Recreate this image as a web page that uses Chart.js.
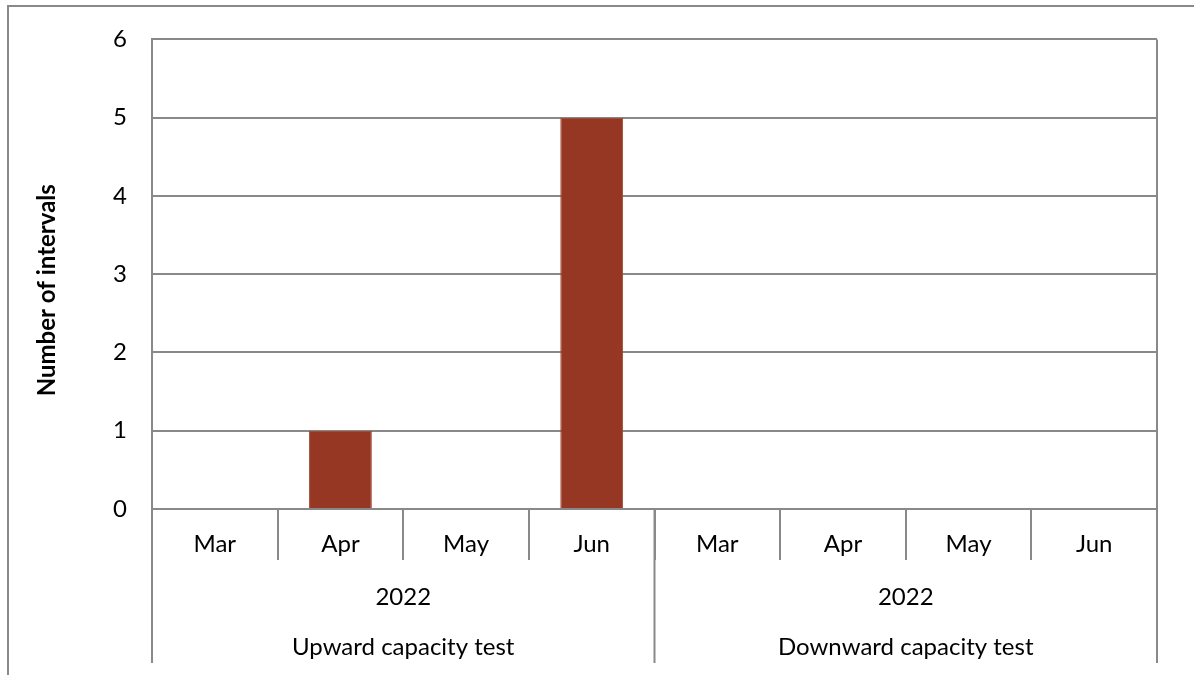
<!DOCTYPE html>
<html>
<head>
<meta charset="utf-8">
<script src="https://cdn.jsdelivr.net/npm/chart.js@4.4.0/dist/chart.umd.min.js"></script>
<style>
  body { margin: 0; background: #fff; }
  #wrap { position: relative; width: 1194px; height: 675px; }
</style>
</head>
<body>
<div id="wrap"><canvas id="myChart"></canvas></div>
<script>
var months = ['Mar', 'Apr', 'May', 'Jun', 'Mar', 'Apr', 'May', 'Jun'];
var years = ['2022', '2022'];
var groups = ['Upward capacity test', 'Downward capacity test'];
var intervals = [0, 1, 0, 5, 0, 0, 0, 0];
var yTicks = [0, 1, 2, 3, 4, 5, 6];
var yTitle = 'Number of intervals';

var lineColor = '#898989';
var fontFam = 'Lato, "Noto Sans", sans-serif';

/* hierarchical category axis, axis title and frame lines */
var groupAxis = {
  id: 'groupAxis',
  beforeDraw: function(chart) {
    var ctx = chart.ctx;
    ctx.save();
    ctx.strokeStyle = lineColor;
    ctx.lineWidth = 2;
    ctx.beginPath();
    ctx.moveTo(8, 675);
    ctx.lineTo(8, 6);
    ctx.lineTo(1194, 6);
    ctx.stroke();
    ctx.restore();
  },
  afterDraw: function(chart) {
    var ctx = chart.ctx;
    var x = chart.scales.x;
    var area = chart.chartArea;
    var half = (x.getPixelForValue(1) - x.getPixelForValue(0)) / 2;
    var per = months.length / groups.length;
    var endY = area.bottom + 154;

    ctx.save();
    ctx.strokeStyle = lineColor;
    ctx.lineWidth = 2;
    ctx.beginPath();
    ctx.moveTo(area.right, area.top);
    ctx.lineTo(area.right, area.bottom);
    ctx.stroke();
    for (var g = 0; g <= groups.length; g++) {
      var px = g == groups.length ? x.getPixelForValue(months.length - 1) + half : x.getPixelForValue(g * per) - half;
      ctx.beginPath();
      ctx.moveTo(px, area.bottom);
      ctx.lineTo(px, endY);
      ctx.stroke();
    }

    ctx.fillStyle = '#000';
    ctx.font = '24px ' + fontFam;
    ctx.textAlign = 'center';
    ctx.textBaseline = 'middle';
    for (var i = 0; i < months.length; i++) {
      ctx.fillText(months[i], x.getPixelForValue(i), area.bottom + 35);
    }
    for (var j = 0; j < groups.length; j++) {
      var mid = (x.getPixelForValue(j * per) + x.getPixelForValue(j * per + per - 1)) / 2;
      ctx.fillText(years[j], mid, area.bottom + 88);
      ctx.fillText(groups[j], mid, area.bottom + 138);
    }

    // y axis title, sits a little below the plot centre like the original
    ctx.translate(47, (area.top + area.bottom) / 2 + 16);
    ctx.rotate(-Math.PI / 2);
    ctx.font = 'bold 24px ' + fontFam;
    ctx.fillText(yTitle, 0, 0);
    ctx.restore();
  }
};

var ctx = document.getElementById('myChart').getContext('2d');
var myChart = new Chart(ctx, {
  type: 'bar',
  plugins: [groupAxis],
  data: {
    labels: months,
    datasets: [{
      label: yTitle,
      data: intervals,
      backgroundColor: '#963723',
      borderColor: '#a24a36',
      borderWidth: 1,
      categoryPercentage: 1,
      barPercentage: 0.5
    }]
  },
  options: {
    responsive: true,
    maintainAspectRatio: false,
    animation: false,
    layout: { padding: { top: 38, right: 37, left: 0, bottom: 0 } },
    plugins: { legend: { display: false }, tooltip: { enabled: false } },
    scales: {
      x: {
        offset: true,
        grid: { offset: true, drawOnChartArea: false, color: lineColor, lineWidth: 2, tickLength: 51 },
        border: { display: false },
        ticks: { display: false },
        afterFit: function(scale) { scale.height = 166; }
      },
      y: {
        min: 0,
        max: 6,
        afterBuildTicks: function(scale) { scale.ticks = yTicks.map(function(v) { return { value: v }; }); },
        grid: { color: lineColor, lineWidth: 2, drawTicks: false },
        border: { color: lineColor, width: 2 },
        ticks: { color: '#000', padding: 25, font: { family: fontFam, size: 24 } },
        afterFit: function(scale) { scale.width = 152; }
      }
    }
  }
});
</script>
</body>
</html>
